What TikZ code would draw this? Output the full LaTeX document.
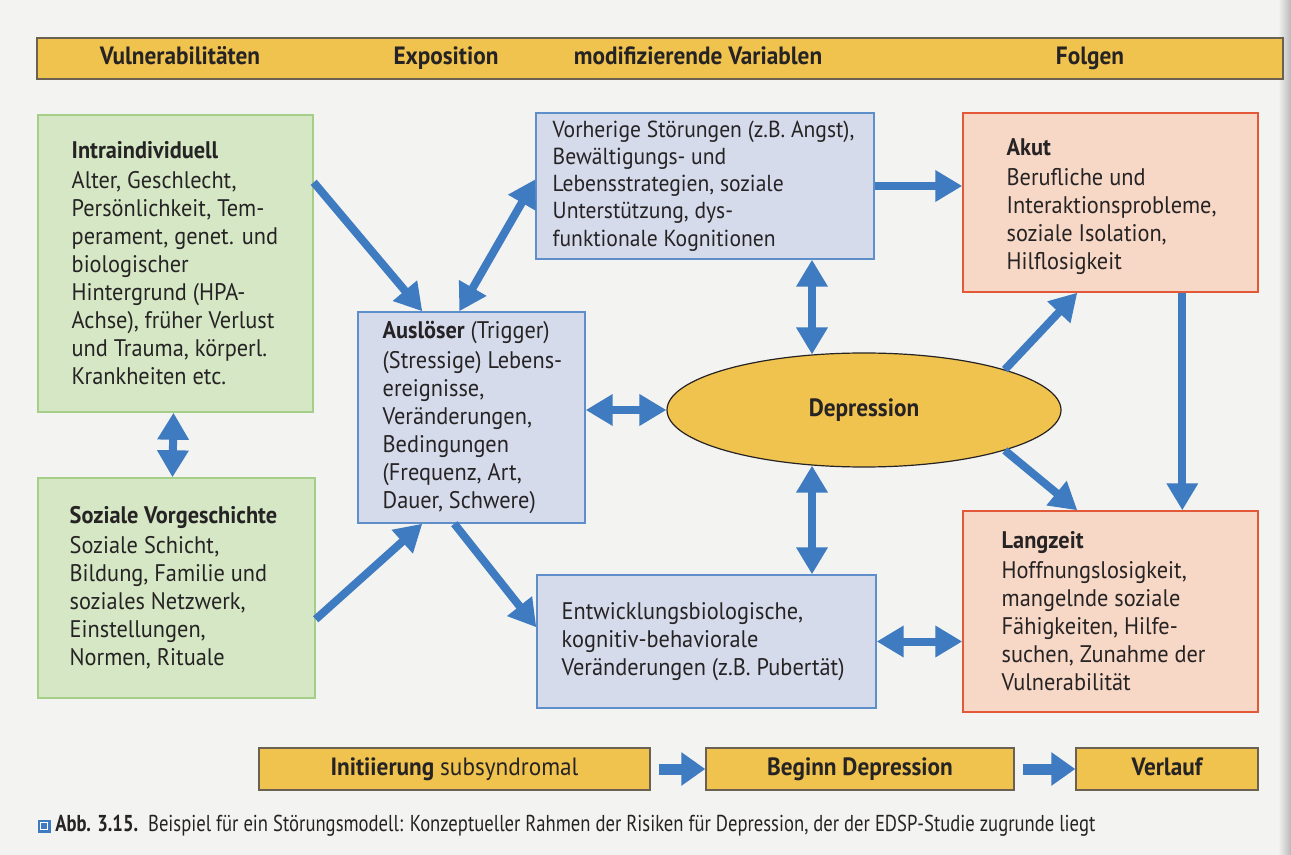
\documentclass[tikz,border=0pt]{standalone}
\usepackage{fontspec}
\setmainfont{PT Sans}[FakeStretch=0.93]
\newfontfamily\condfont{PT Sans}[FakeStretch=0.81]
\usetikzlibrary{arrows.meta,shapes.geometric}
\definecolor{bg}{HTML}{F3F3F1}
\definecolor{gold}{HTML}{F0C24E}
\definecolor{goldline}{HTML}{6B6152}
\definecolor{greenfill}{HTML}{D5E7C4}
\definecolor{greenline}{HTML}{A5CE88}
\definecolor{bluefill}{HTML}{D6DBEC}
\definecolor{blueline}{HTML}{5F8FCB}
\definecolor{peachfill}{HTML}{F7D7C5}
\definecolor{peachline}{HTML}{E4583A}
\definecolor{arrowblue}{HTML}{3F7BC1}
\definecolor{ink}{HTML}{262324}
\tikzset{
  gbox/.style={draw=greenline, fill=greenfill, line width=0.7pt, inner sep=0pt},
  bbox/.style={draw=blueline, fill=bluefill, line width=0.7pt, inner sep=0pt},
  pbox/.style={draw=peachline, fill=peachfill, line width=0.7pt, inner sep=0pt},
  ybox/.style={draw=goldline, fill=gold, line width=0.7pt, inner sep=0pt, text=ink,
    text height=9pt, text depth=3pt,
    font=\bfseries\fontsize{12.5}{14}\selectfont},
  hlabel/.style={inner sep=0pt, text=ink, text height=9pt, text depth=3pt,
    font=\bfseries\fontsize{12.5}{14}\selectfont},
  txt/.style={anchor=west, align=left, inner sep=0pt, text=ink, font=\fontsize{12}{14}\selectfont},
  onearrow/.style={draw=arrowblue, line width=4pt, -{Triangle[length=13.5pt,width=15pt]}},
  twoarrow/.style={draw=arrowblue, line width=4pt,
    {Triangle[length=13.5pt,width=15pt]}-{Triangle[length=13.5pt,width=15pt]}},
  flowarrow/.style={draw=arrowblue, line width=5.5pt, -{Triangle[length=12pt,width=16pt]},
    shorten <=4pt},
}
\begin{document}
\begin{tikzpicture}[x=0.5pt, y=-0.5pt]
\fill[bg] (0,0) rectangle (1291,855);
\useasboundingbox (0,0) rectangle (1291,855);
\shade[left color=bg, right color=gray!55] (1278,0) rectangle (1291,855);

% header band
\node[ybox, minimum width=623pt, minimum height=20.5pt] (head) at (660,58.5) {};
\node[hlabel] (hv) at (180,58.5) {Vulnerabilitäten};
\node[hlabel] (he) at (446,58.5) {Exposition};
\node[hlabel] (hm) at (698,58.5) {modifizierende Variablen};
\node[hlabel] (hf) at (1090,58.5) {Folgen};

% boxes
\node[gbox, minimum width=137.5pt, minimum height=148.5pt] (g1) at (175.5,263.5) {};
\node[txt] (g1t) at ([xshift=17pt]g1.west) {\textbf{Intraindividuell}\\[1pt]
Alter, Geschlecht,\\ Persönlichkeit, Tem-\\ perament, genet. und\\ biologischer\\
Hintergrund (HPA-\\ Achse), früher Verlust\\ und Trauma, körperl.\\ Krankheiten etc.};

\node[gbox, minimum width=138.5pt, minimum height=110pt] (g2) at (176.5,588) {};
\node[txt] (g2t) at ([xshift=16pt]g2.west) {\textbf{Soziale Vorgeschichte}\\[1pt]
Soziale Schicht,\\ Bildung, Familie und\\ soziales Netzwerk,\\ Einstellungen,\\ Normen, Rituale};

\node[bbox, minimum width=113.5pt, minimum height=105.5pt] (aus) at (471.5,417.5) {};
\node[txt] (aust) at ([xshift=12.5pt]aus.west) {\textbf{Auslöser} (Trigger)\\[1pt]
(Stressige) Lebens-\\ ereignisse,\\ Veränderungen,\\ Bedingungen\\ (Frequenz, Art,\\ Dauer, Schwere)};

\node[bbox, minimum width=169pt, minimum height=73pt] (vor) at (705,186) {};
\node[txt, font=\fontsize{11.6}{13.6}\selectfont] (vort) at ([xshift=8.5pt]vor.west)
{Vorherige Störungen (z.B. Angst),\\
Bewältigungs- und\\ Lebensstrategien, soziale\\ Unterstützung, dys-\\ funktionale Kognitionen};

\node[pbox, minimum width=147.5pt, minimum height=89.5pt] (akut) at (1110.5,202.5) {};
\node[txt] (akutt) at ([xshift=22pt,yshift=-2pt]akut.west) {\textbf{Akut}\\[1pt]
Berufliche und\\ Interaktionsprobleme,\\ soziale Isolation,\\ Hilflosigkeit};

\node[ellipse, draw=ink, fill=gold, line width=0.6pt, inner sep=0pt,
  minimum width=197pt, minimum height=57pt, text=ink,
  font=\bfseries\fontsize{12.5}{14}\selectfont] (dep) at (864,410) {Depression};

\node[bbox, minimum width=169.5pt, minimum height=66.5pt] (ent) at (706.5,641.5) {};
\node[txt] (entt) at ([xshift=12.5pt]ent.west) {Entwicklungsbiologische,\\
kognitiv-behaviorale\\ Veränderungen (z.B. Pubertät)};

\node[pbox, minimum width=147.5pt, minimum height=100.5pt] (lang) at (1110.5,611.5) {};
\node[txt] (langt) at ([xshift=19.5pt]lang.west) {\textbf{Langzeit}\\[1pt]
Hoffnungslosigkeit,\\ mangelnde soziale\\ Fähigkeiten, Hilfe-\\ suchen, Zunahme der\\ Vulnerabilität};

% bottom flow
\node[ybox, minimum width=195.5pt, minimum height=21pt] (ini) at (454.5,769)
  {Initiierung \mdseries subsyndromal};
\node[ybox, minimum width=154pt, minimum height=21pt] (beg) at (860,769) {Beginn Depression};
\node[ybox, minimum width=91pt, minimum height=21pt] (ver) at (1167,769) {Verlauf};

% connectors
\draw[onearrow] ([yshift=-34pt]g1.north east) -- ([xshift=32.5pt]aus.north west);
\draw[twoarrow] ([xshift=51pt]aus.north west) -- ([yshift=-33.5pt]vor.north west);
\draw[twoarrow] ([xshift=-1pt]g1.south) -- ([xshift=-2pt]g2.north);
\draw[onearrow] ([yshift=-71pt]g2.north east) -- ([xshift=32.5pt]aus.south west);
\draw[onearrow] ([xshift=48.5pt]aus.south west) -- ([yshift=-26.5pt]ent.north west);
\draw[twoarrow] (aus.east |- dep.west) -- (dep.west);
\draw[twoarrow] ([xshift=53.5pt]vor.south) -- ([xshift=-26pt,yshift=-1pt]dep.north);
\draw[twoarrow] ([xshift=-26pt,yshift=1pt]dep.south) -- ([xshift=52.75pt]ent.north);
\draw[twoarrow] (ent.east) -- (ent.east -| lang.west);
\draw[onearrow] (vor.east) -- (vor.east -| akut.west);
\draw[onearrow] (dep.16) -- ([xshift=57.5pt]akut.south west);
\draw[onearrow] (dep.-16) -- ([xshift=57.5pt]lang.north west);
\draw[onearrow] ([xshift=110pt]akut.south west) -- ([xshift=110pt]lang.north west);
\draw[flowarrow] (ini.east) -- (beg.west);
\draw[flowarrow] (beg.east) -- (ver.west);

% caption
\node[fill=arrowblue, minimum size=6.5pt, inner sep=0pt] (icon) at (44,826) {};
\draw[white, line width=0.5pt] ([shift={(1.5pt,1.5pt)}]icon.south west)
  rectangle ([shift={(-1.5pt,-1.5pt)}]icon.north east);
\node[anchor=west, inner sep=0pt, text=ink, font=\condfont\fontsize{11.5}{13}\selectfont]
  (cap) at (55,826) {\textbf{Abb. 3.15.}\ \ Beispiel für ein Störungsmodell: Konzeptueller Rahmen der Risiken für Depression, der der EDSP-Studie zugrunde liegt};
\end{tikzpicture}
\end{document}
